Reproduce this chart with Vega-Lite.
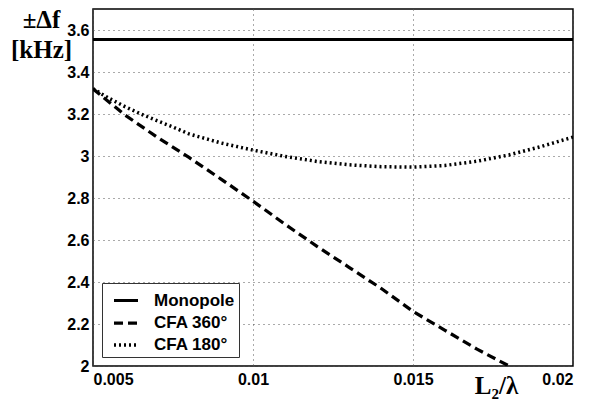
{
  "$schema": "https://vega.github.io/schema/vega-lite/v6.json",
  "width": 480,
  "height": 357,
  "autosize": {"type": "none"},
  "padding": {"left": 93, "top": 9, "right": 16, "bottom": 39},
  "background": "white",
  "config": {
    "view": {"stroke": "black", "strokeWidth": 1.5},
    "axis": {
      "labelFont": "Liberation Sans",
      "labelFontWeight": "bold",
      "labelFontSize": 16,
      "labelColor": "black",
      "ticks": false,
      "domain": false,
      "grid": true,
      "gridColor": "#555",
      "gridDash": [1, 4],
      "gridWidth": 1,
      "gridOpacity": 1
    }
  },
  "data": {
    "values": [
      {"x": 0.005, "y": 3.555, "s": "Monopole"},
      {"x": 0.02, "y": 3.555, "s": "Monopole"},
      {"x": 0.005, "y": 3.32, "s": "CFA 360°"},
      {"x": 0.006, "y": 3.195, "s": "CFA 360°"},
      {"x": 0.007, "y": 3.09, "s": "CFA 360°"},
      {"x": 0.008, "y": 2.993, "s": "CFA 360°"},
      {"x": 0.009, "y": 2.89, "s": "CFA 360°"},
      {"x": 0.01, "y": 2.785, "s": "CFA 360°"},
      {"x": 0.011, "y": 2.675, "s": "CFA 360°"},
      {"x": 0.012, "y": 2.57, "s": "CFA 360°"},
      {"x": 0.013, "y": 2.47, "s": "CFA 360°"},
      {"x": 0.014, "y": 2.37, "s": "CFA 360°"},
      {"x": 0.015, "y": 2.26, "s": "CFA 360°"},
      {"x": 0.016, "y": 2.17, "s": "CFA 360°"},
      {"x": 0.017, "y": 2.08, "s": "CFA 360°"},
      {"x": 0.018, "y": 2.0, "s": "CFA 360°"},
      {"x": 0.005, "y": 3.32, "s": "CFA 180°"},
      {"x": 0.0055, "y": 3.275, "s": "CFA 180°"},
      {"x": 0.006, "y": 3.235, "s": "CFA 180°"},
      {"x": 0.0065, "y": 3.2, "s": "CFA 180°"},
      {"x": 0.007, "y": 3.168, "s": "CFA 180°"},
      {"x": 0.0075, "y": 3.138, "s": "CFA 180°"},
      {"x": 0.008, "y": 3.105, "s": "CFA 180°"},
      {"x": 0.009, "y": 3.062, "s": "CFA 180°"},
      {"x": 0.01, "y": 3.028, "s": "CFA 180°"},
      {"x": 0.011, "y": 2.998, "s": "CFA 180°"},
      {"x": 0.012, "y": 2.974, "s": "CFA 180°"},
      {"x": 0.013, "y": 2.958, "s": "CFA 180°"},
      {"x": 0.014, "y": 2.949, "s": "CFA 180°"},
      {"x": 0.015, "y": 2.947, "s": "CFA 180°"},
      {"x": 0.016, "y": 2.955, "s": "CFA 180°"},
      {"x": 0.017, "y": 2.975, "s": "CFA 180°"},
      {"x": 0.018, "y": 3.005, "s": "CFA 180°"},
      {"x": 0.019, "y": 3.045, "s": "CFA 180°"},
      {"x": 0.02, "y": 3.09, "s": "CFA 180°"}
    ]
  },
  "mark": {"type": "line", "color": "black", "clip": true, "strokeCap": "butt"},
  "encoding": {
    "x": {
      "field": "x",
      "type": "quantitative",
      "scale": {"domain": [0.005, 0.02], "nice": false},
      "axis": {
        "values": [0.005, 0.01, 0.015, 0.02],
        "format": "~g",
        "labelPadding": 5,
        "title": "L₂/λ",
        "titleFont": "Liberation Serif",
        "titleFontWeight": "bold",
        "titleFontSize": 25,
        "titleColor": "black",
        "titleAnchor": "start",
        "titleAlign": "center",
        "titleBaseline": "alphabetic",
        "titleX": 403,
        "titleY": 27
      }
    },
    "y": {
      "field": "y",
      "type": "quantitative",
      "scale": {"domain": [2, 3.7], "nice": false, "zero": false},
      "axis": {
        "values": [2, 2.2, 2.4, 2.6, 2.8, 3, 3.2, 3.4, 3.6],
        "format": "~g",
        "labelPadding": 4,
        "title": ["±Δf", "[kHz]"],
        "titleFont": "Liberation Serif",
        "titleFontWeight": "bold",
        "titleFontSize": 25,
        "titleColor": "black",
        "titleAngle": 0,
        "titleAlign": "center",
        "titleBaseline": "alphabetic",
        "titleLineHeight": 30,
        "titleX": -52,
        "titleY": 18
      }
    },
    "strokeDash": {
      "field": "s",
      "type": "nominal",
      "scale": {
        "domain": ["Monopole", "CFA 360°", "CFA 180°"],
        "range": [[1, 0], [9, 5], [2, 3]]
      },
      "legend": {
        "title": null,
        "orient": "none",
        "legendX": 9,
        "legendY": 274,
        "direction": "vertical",
        "fillColor": "white",
        "strokeColor": "#333",
        "padding": 4,
        "symbolType": "stroke",
        "symbolStrokeColor": "black",
        "symbolStrokeWidth": 3.5,
        "symbolSize": 576,
        "symbolOffset": 6,
        "rowPadding": 0,
        "labelFont": "Liberation Sans",
        "labelFontWeight": "bold",
        "labelFontSize": 17,
        "labelColor": "black",
        "labelOffset": 14
      }
    },
    "strokeWidth": {
      "field": "s",
      "type": "nominal",
      "scale": {"domain": ["Monopole", "CFA 360°", "CFA 180°"], "range": [3, 3.5, 3]},
      "legend": null
    }
  }
}
